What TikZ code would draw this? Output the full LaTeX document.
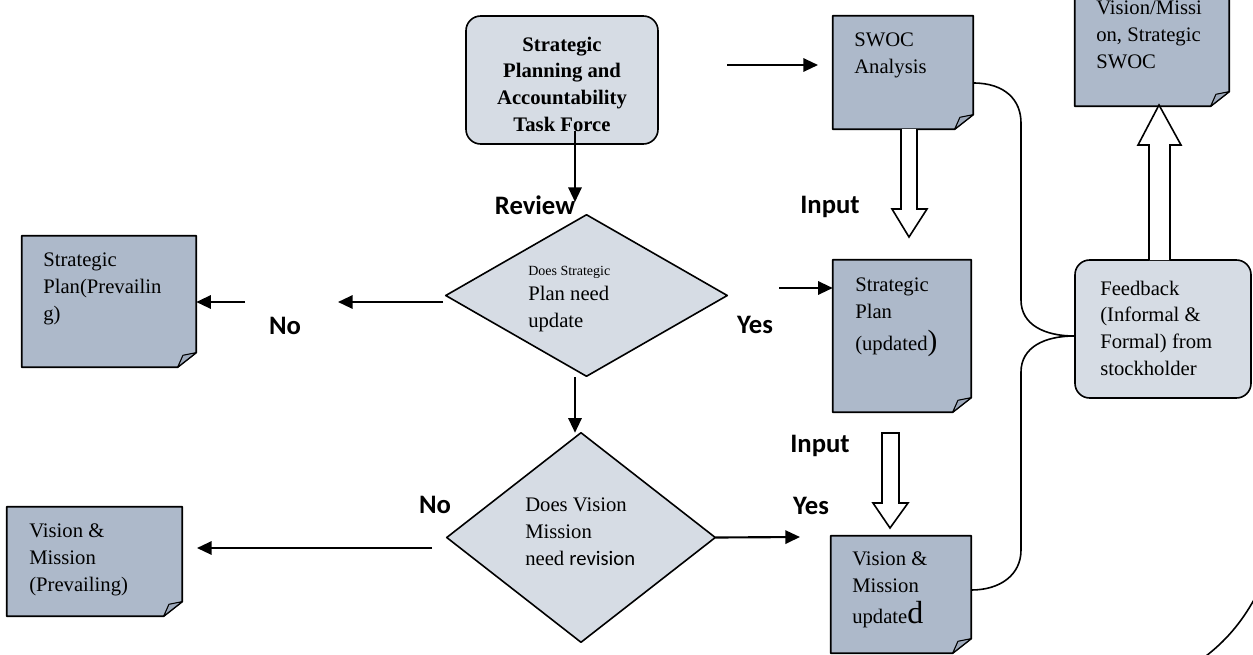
\documentclass[tikz,border=0pt]{standalone}
\usepackage{fontspec}
\setmainfont{Liberation Serif}
\newfontfamily\calfont{Carlito}
\usetikzlibrary{arrows.meta,fit}
\definecolor{docfill}{HTML}{ADB9CA}
\definecolor{boxfill}{HTML}{D6DCE4}
\definecolor{curlfill}{HTML}{9DA9BB}
\newcommand\docnode[3]{%
  \node[fit={#2 #3}, inner sep=0pt] (#1) {};
  \draw[shapeline, fill=docfill] (#1.north west) -- (#1.north east) -- ([yshift=11pt]#1.south east) -- ([xshift=-14pt]#1.south east) -- (#1.south west) -- cycle;
  \draw[shapeline, line width=0.8pt, fill=curlfill] ([xshift=-14pt]#1.south east) -- ([xshift=-10pt,yshift=9pt]#1.south east) -- ([yshift=11pt]#1.south east) -- cycle;
}
\begin{document}
\begin{tikzpicture}[x=0.75pt,y=-0.75pt,
  shapeline/.style={draw=black, line width=1.2pt, line join=round},
  conn/.style={draw=black, line width=1.6pt, -{Triangle[length=11pt,width=10pt]}},
  hollow/.style={draw=black, line width=1.2pt, fill=white, line join=miter},
  doctext/.style={font=\fontsize{15.5}{20}\selectfont, align=left, inner sep=0pt, anchor=base west},
  lbl/.style={font=\calfont\bfseries\fontsize{20}{24}\selectfont, inner sep=0pt},
  rbox/.style={shapeline, fill=boxfill, rounded corners=11pt, inner sep=0pt}]
\useasboundingbox (0,0) rectangle (1253,654);

% ---------- Task force ----------
\node[rbox, fit={(466,16)(658,144)}] (tf) {};
\node[font=\bfseries\fontsize{15.5}{20}\selectfont, align=center, inner sep=0pt, anchor=base] (tft) at (562,131) {Strategic\\Planning and\\Accountability\\Task Force};

% ---------- documents ----------
\docnode{swoc}{(833,16)}{(973,129)}
\node[doctext] (swoct) at (854,73) {SWOC\\Analysis};

\docnode{vmtop}{(1075,-10)}{(1229,106)}
\node[doctext] (vmtopt) at (1096,68) {Vision/Missi\\on, Strategic\\SWOC};

\docnode{spprev}{(22,236)}{(196,367)}
\node[doctext] (spprevt) at (43,320) {Strategic\\Plan(Prevailin\\g)};

\docnode{spu}{(833,260)}{(971,412)}
\node[doctext] (sput) at (855,350) {Strategic\\Plan\\[4pt](updated{\fontsize{22}{20}\selectfont)}};

\docnode{vmprev}{(7,507)}{(182,616)}
\node[doctext] (vmprevt) at (29,591) {Vision \&\\Mission\\(Prevailing)};

\docnode{vmu}{(831,536)}{(971,653)}
\node[doctext] (vmut) at (852,623) {Vision \&\\Mission\\[3pt]update{\fontsize{24}{20}\selectfont d}};

% ---------- feedback ----------
\node[rbox, fit={(1075,260)(1251,398)}] (fb) {};
\node[doctext] (fbt) at (1100,375) {Feedback\\(Informal \&\\Formal) from\\stockholder};

% ---------- diamonds ----------
\node[fit={(446,215)(727,376)}, inner sep=0pt] (d1) {};
\draw[shapeline, fill=boxfill] (d1.west) -- (d1.north) -- (d1.east) -- (d1.south) -- cycle;
\node[doctext] (d1t) at (528,327) {{\fontsize{10.5}{12}\selectfont Does Strategic}\\[-1.2pt]Plan need\\update};

\node[fit={(447,433)(715,642)}, inner sep=0pt] (d2) {};
\draw[shapeline, fill=boxfill] (d2.west) -- (d2.north) -- (d2.east) -- (d2.south) -- cycle;
\node[doctext] (d2t) at (525,565) {Does Vision\\Mission\\need {\calfont revision}};

% ---------- labels ----------
\node[lbl] (review) at (535,205) {Review};
\node[lbl] (input1) at (830,207) {Input};
\node[lbl] (input2) at (820,446) {Input};
\node[lbl] (no1) at (285,326) {No};
\node[lbl] (no2) at (435,505) {No};
\node[lbl] (yes1) at (755,325) {Yes};
\node[lbl] (yes2) at (811,506) {Yes};

% ---------- free ends ----------
\coordinate (tfs) at (575,131);
\coordinate (tfe) at (575,202);
\coordinate (sws) at (727,65);
\coordinate (swe) at (818,65);
\coordinate (spps) at (245,302);
\coordinate (d1w) at (443,302);
\coordinate (d1we) at (338,302);
\coordinate (spus) at (779,288);
\coordinate (d1s) at (575,377);
\coordinate (d2e) at (800,537);
\coordinate (vmps) at (432,548);
\coordinate (vmpe) at (197,548);

% ---------- connectors ----------
\draw[conn] (tfs) -- (tfe);
\draw[conn] (sws) -- (swe);
\draw[conn] (spps) -- (spprev.east |- spps);
\draw[conn] (d1w) -- (d1we);
\draw[conn] (spus) -- (spu.west |- spus);
\draw[conn] (d1s) -- (d1s |- d2.north);
\draw[conn] (d2.east) -- (d2e);
\draw[conn] (vmps) -- (vmpe);

% ---------- hollow arrows ----------
\draw[hollow] (901,129) -- (901,209) -- (892,209) -- (909,237) -- (927,209) -- (917,209) -- (917,129);
\draw[hollow] (882,433) -- (882,503) -- (873,503) -- (890,528) -- (908,503) -- (899,503) -- (899,433) -- cycle;
\draw[hollow] (1149,260) -- (1149,145) -- (1138,145) -- (1159,105) -- (1181,145) -- (1170,145) -- (1170,260);

% ---------- brace ----------
\draw[line width=1.2pt] (swoc.east |- 0,83) .. controls (1005,83) and (1021,100) .. (1021,123)
  -- (1021,300) .. controls (1021,325) and (1045,336) .. (fb.west |- 0,336);
\draw[line width=1.2pt] (fb.west |- 0,336) .. controls (1045,336) and (1021,347) .. (1021,372)
  -- (1021,550) .. controls (1021,575) and (1000,590) .. (vmu.east |- 0,590);
\draw[line width=1.2pt] (1255,598) .. controls (1240,625) and (1224,642) .. (1206,656);
\end{tikzpicture}
\end{document}
